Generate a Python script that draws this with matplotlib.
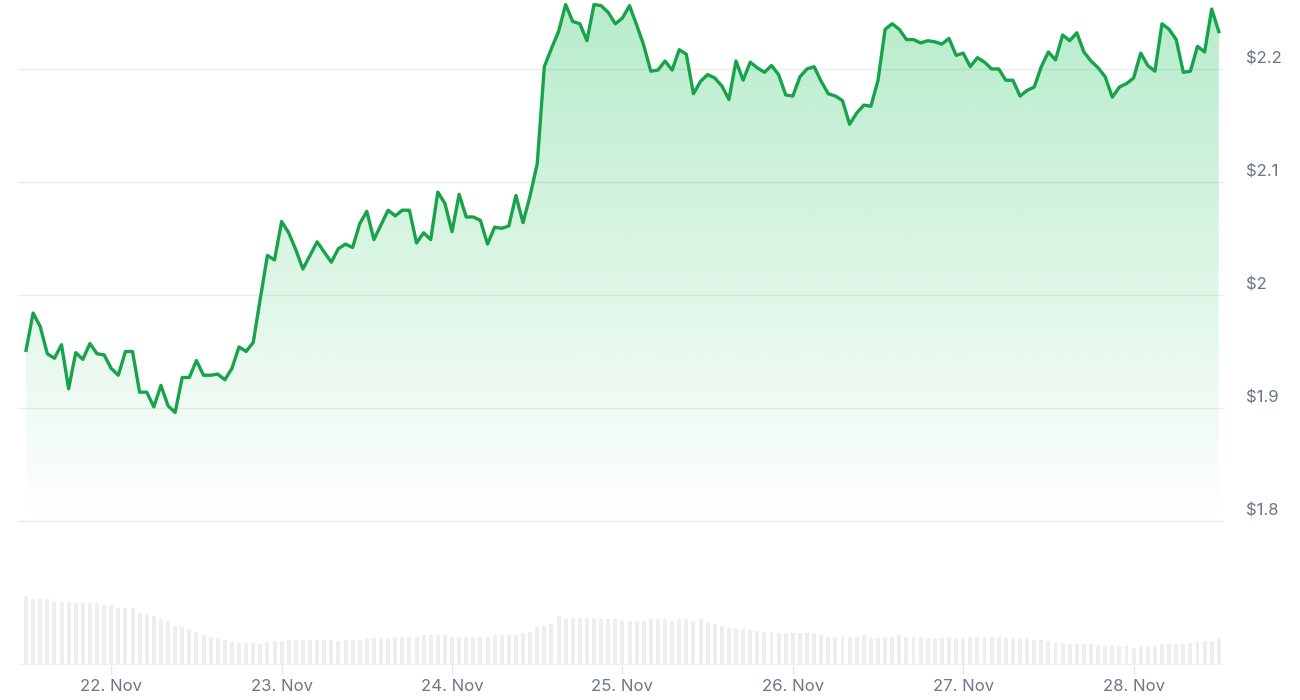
import numpy as np
import pandas as pd
import matplotlib
matplotlib.use('Agg')
import matplotlib.pyplot as plt
import matplotlib.dates as mdates
import matplotlib.transforms as mtransforms

plt.rcParams['font.family'] = ['Inter', 'DejaVu Sans']

# 每小时价格 (USD), 从 21 Nov 12:00 开始
price = [
    1.951, 1.984, 1.972, 1.948, 1.944, 1.956, 1.917, 1.949, 1.943, 1.957,
    1.948, 1.947, 1.935, 1.929, 1.950, 1.950, 1.914, 1.914, 1.901, 1.920,
    1.902, 1.896, 1.927, 1.927, 1.942, 1.929, 1.929, 1.930, 1.925, 1.935,
    1.954, 1.950, 1.958, 1.997, 2.035, 2.031, 2.065, 2.055, 2.040, 2.023,
    2.035, 2.047, 2.038, 2.029, 2.041, 2.045, 2.042, 2.063, 2.074, 2.049,
    2.062, 2.075, 2.070, 2.075, 2.075, 2.046, 2.055, 2.049, 2.091, 2.081,
    2.056, 2.089, 2.069, 2.069, 2.066, 2.045, 2.060, 2.059, 2.061, 2.088,
    2.064, 2.088, 2.116, 2.202, 2.218, 2.233, 2.257, 2.242, 2.240, 2.225,
    2.257, 2.256, 2.250, 2.240, 2.245, 2.256, 2.239, 2.221, 2.198, 2.199,
    2.207, 2.199, 2.217, 2.213, 2.178, 2.189, 2.195, 2.192, 2.185, 2.173,
    2.207, 2.190, 2.206, 2.201, 2.197, 2.203, 2.195, 2.177, 2.176, 2.193,
    2.200, 2.202, 2.189, 2.178, 2.176, 2.172, 2.151, 2.161, 2.168, 2.167,
    2.190, 2.235, 2.240, 2.235, 2.226, 2.226, 2.223, 2.225, 2.224, 2.222,
    2.227, 2.212, 2.214, 2.202, 2.210, 2.206, 2.200, 2.200, 2.190, 2.190,
    2.176, 2.181, 2.184, 2.202, 2.215, 2.208, 2.230, 2.225, 2.232, 2.215,
    2.207, 2.201, 2.193, 2.175, 2.184, 2.187, 2.192, 2.214, 2.203, 2.198,
    2.240, 2.235, 2.226, 2.197, 2.198, 2.220, 2.215, 2.253, 2.233,
]

# 成交量 (相对值)
volume = [
    68, 65, 65, 65, 62, 62, 62, 61, 61, 61,
    61, 59, 59, 56, 56, 56, 51, 50, 48, 45,
    43, 38, 37, 35, 32, 29, 27, 26, 24, 22,
    21, 21, 21, 20, 22, 23, 23, 24, 24, 24,
    24, 24, 24, 24, 23, 24, 24, 24, 26, 26,
    26, 26, 27, 27, 27, 27, 29, 29, 29, 29,
    27, 27, 27, 27, 27, 27, 29, 29, 29, 29,
    31, 32, 37, 38, 40, 48, 45, 46, 46, 46,
    46, 45, 45, 45, 43, 43, 43, 43, 45, 45,
    45, 43, 45, 45, 43, 45, 42, 40, 38, 36,
    35, 35, 34, 33, 32, 32, 31, 31, 31, 31,
    31, 31, 29, 27, 27, 27, 27, 27, 29, 26,
    26, 27, 27, 29, 27, 27, 27, 26, 26, 26,
    27, 26, 26, 27, 27, 27, 27, 27, 26, 26,
    26, 26, 24, 24, 23, 21, 21, 20, 20, 20,
    20, 19, 18, 19, 18, 18, 16, 18, 18, 18,
    20, 20, 20, 20, 21, 22, 23, 23, 26,
]

y_ticks = [1.8, 1.9, 2.0, 2.1, 2.2]
y_labels = ['$1.8', '$1.9', '$2', '$2.1', '$2.2']

t = pd.date_range('2024-11-21 12:00', periods=len(price), freq='h')
tn = mdates.date2num(t)

line_color = '#16a34a'
grid_color = '#ececec'
text_color = '#6b7686'

W, H = 1300, 700
fig = plt.figure(figsize=(W / 100, H / 100), dpi=100)
ax = fig.add_axes([18 / W, 1 - 521 / H, 1204 / W, 521 / H])
axv = fig.add_axes([18 / W, 1 - 664 / H, 1204 / W, 74 / H], sharex=ax)

ymin, ymax = 1.8, 2.261
xmin = tn[0] - 1.13 / 24
xmax = tn[-1] + 0.45 / 24

# 网格线
for v in y_ticks:
    ax.axhline(v, color=grid_color, lw=1, zorder=0, clip_on=False)

# 渐变填充
poly = ax.fill_between(t, price, ymin, facecolor='none', edgecolor='none')
grad = np.zeros((256, 1, 4))
grad[:, 0, 0] = 34 / 255
grad[:, 0, 1] = 197 / 255
grad[:, 0, 2] = 94 / 255
grad[:, 0, 3] = np.linspace(0.0, 0.33, 256)
img = ax.imshow(grad, extent=[xmin, xmax, ymin, ymax], aspect='auto',
                origin='lower', zorder=1, interpolation='bilinear')
img.set_clip_path(poly.get_paths()[0], transform=ax.transData)

ax.plot(t, price, color=line_color, lw=2.4, zorder=3, clip_on=False,
        solid_joinstyle='round')

ax.set_xlim(xmin, xmax)
ax.set_ylim(ymin, ymax)
ax.axis('off')

# 右侧价格标签
trans = mtransforms.blended_transform_factory(ax.transAxes, ax.transData)
trans = trans + mtransforms.ScaledTranslation(0, 10 / 72 * 0.72, fig.dpi_scale_trans)
for v, lab in zip(y_ticks, y_labels):
    ax.text((1246 - 18) / 1204, v, lab, transform=trans, ha='left', va='center',
            fontsize=12, color=text_color)

# 成交量柱
axv.bar(t, volume, width=0.56 / 24, color='#eceef2', zorder=2)
axv.set_ylim(0, 74)
axv.set_xlim(xmin, xmax)
for s in ['top', 'right', 'left']:
    axv.spines[s].set_visible(False)
axv.spines['bottom'].set_color('#eef0f3')
axv.set_yticks([])
axv.xaxis.set_major_locator(mdates.DayLocator())
axv.xaxis.set_major_formatter(mdates.DateFormatter('%d. %b'))
axv.tick_params(axis='x', length=7, width=1, color='#e6e8ec', pad=4,
                labelsize=12, labelcolor=text_color)

fig.savefig('out.png', dpi=100, facecolor='white')
